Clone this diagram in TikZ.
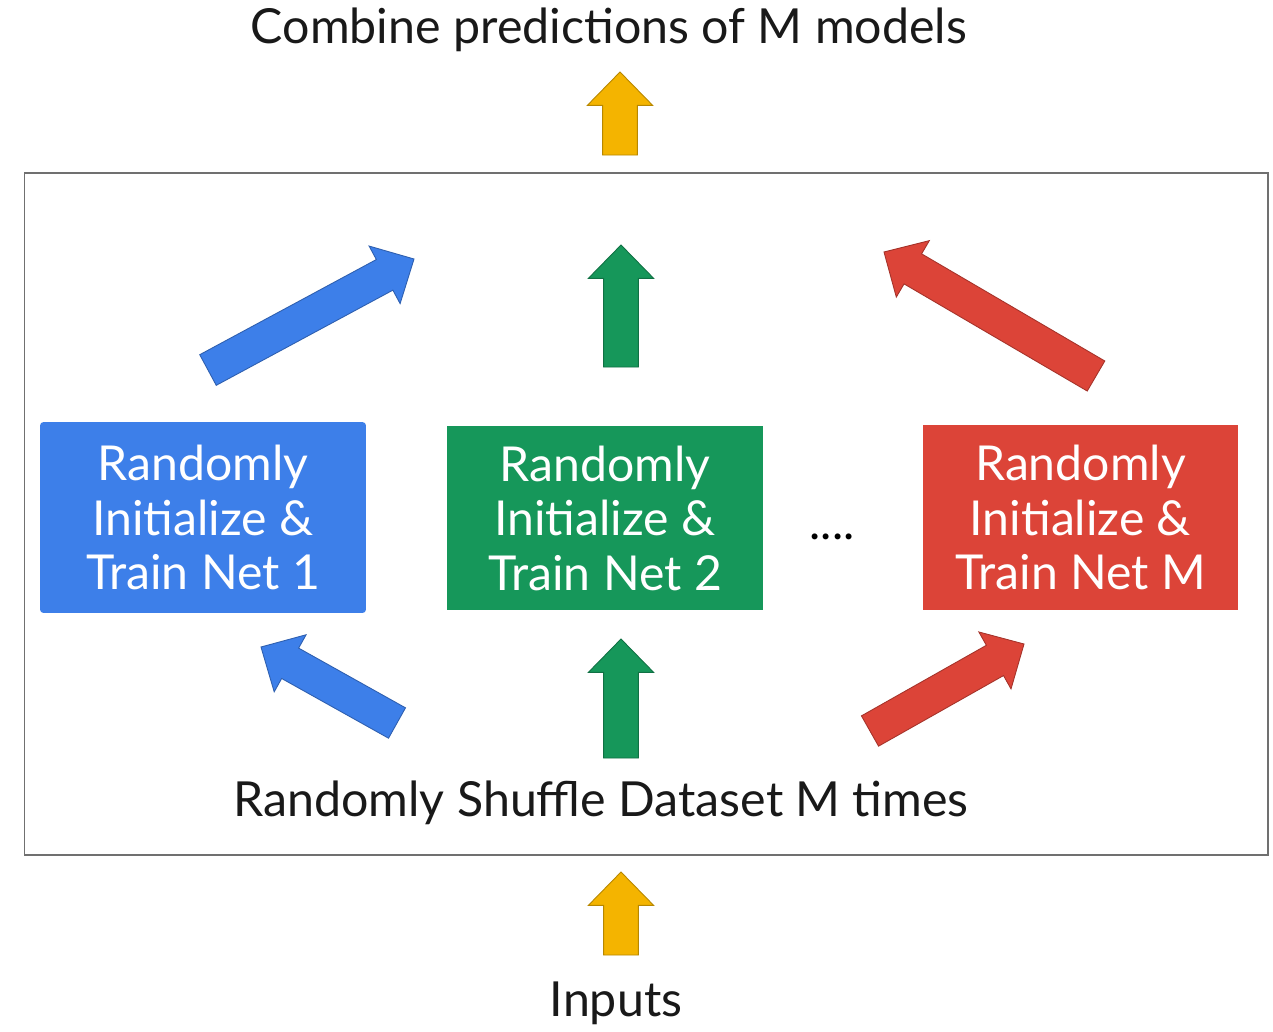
\documentclass[tikz,border=0pt]{standalone}
\usepackage{fontspec}
\setmainfont{Lato}
\usetikzlibrary{calc}
\definecolor{gblue}{HTML}{3D7FE9}
\definecolor{ggreen}{HTML}{16975A}
\definecolor{gred}{HTML}{DC4438}
\definecolor{gyellow}{HTML}{F4B400}
\definecolor{frame}{HTML}{707070}
\tikzset{
  netbox/.style={inner sep=0pt, align=center, text=white,
    font=\fontsize{27.4}{31}\selectfont},
  label/.style={inner sep=0pt, text=black!90, font=\fontsize{27.5}{31}\selectfont},
}
% fat arrow from tail #1 to tip #2, colour #3
\newcommand\fatarrow[3]{%
  \coordinate (hb) at ($(#2)!19pt!(#1)$);
  \filldraw[fill=#3, draw=#3!75!black, line width=0.5pt, line join=miter]
    ($(#1)!9.9pt!90:(#2)$) -- ($(hb)!9.9pt!90:(#2)$) -- ($(hb)!18.6pt!90:(#2)$)
    -- (#2) -- ($(hb)!18.6pt!-90:(#2)$) -- ($(hb)!9.9pt!-90:(#2)$)
    -- ($(#1)!9.9pt!-90:(#2)$) -- cycle;}
\begin{document}
\begin{tikzpicture}[x=0.02cm, y=-0.02cm]
\useasboundingbox[fill=white] (0,0) rectangle (1273,1031);
\node[draw=frame, line width=0.7pt, minimum width=24.88cm, minimum height=13.64cm, inner sep=0pt] (frame) at (646,514) {};

\node[label] (title) at (609,30) {Combine predictions of M models};
\node[label] (shuffle) at (601,803) {Randomly Shuffle Dataset M times};
\node[label] (inputs) at (616,1003) {Inputs};

\node[netbox, fill=gblue, rounded corners=2pt, minimum width=6.52cm, minimum height=3.82cm] (net1) at (203,517.5) {Randomly\\Initialize \&\\Train Net 1};
\node[netbox, fill=ggreen, minimum width=6.32cm, minimum height=3.68cm] (net2) at (605,518) {Randomly\\Initialize \&\\Train Net 2};
\node[netbox, fill=gred, minimum width=6.30cm, minimum height=3.70cm] (netM) at (1080.5,517.5) {Randomly\\Initialize \&\\Train Net M};
\node[inner sep=0pt, font=\fontsize{27}{30}\selectfont] (dots) at (832,537) {....};

% arrow end points
\coordinate (yt1) at (620,155); \coordinate (yh1) at (620,72);
\coordinate (yt2) at (621,955); \coordinate (yh2) at (621,872);
\coordinate (gt1) at (621,367); \coordinate (gh1) at (621,245);
\coordinate (gt2) at (621,758); \coordinate (gh2) at (621,639);
\coordinate (bt1) at (208,370); \coordinate (bh1) at (414,259);
\coordinate (bt2) at (397,723); \coordinate (bh2) at (261,647);
\coordinate (rt1) at (1096,376); \coordinate (rh1) at (884,252);
\coordinate (rt2) at (870,731); \coordinate (rh2) at (1024,644);

\fatarrow{yt1}{yh1}{gyellow}
\fatarrow{yt2}{yh2}{gyellow}
\fatarrow{gt1}{gh1}{ggreen}
\fatarrow{gt2}{gh2}{ggreen}
\fatarrow{bt1}{bh1}{gblue}
\fatarrow{bt2}{bh2}{gblue}
\fatarrow{rt1}{rh1}{gred}
\fatarrow{rt2}{rh2}{gred}
\end{tikzpicture}
\end{document}
